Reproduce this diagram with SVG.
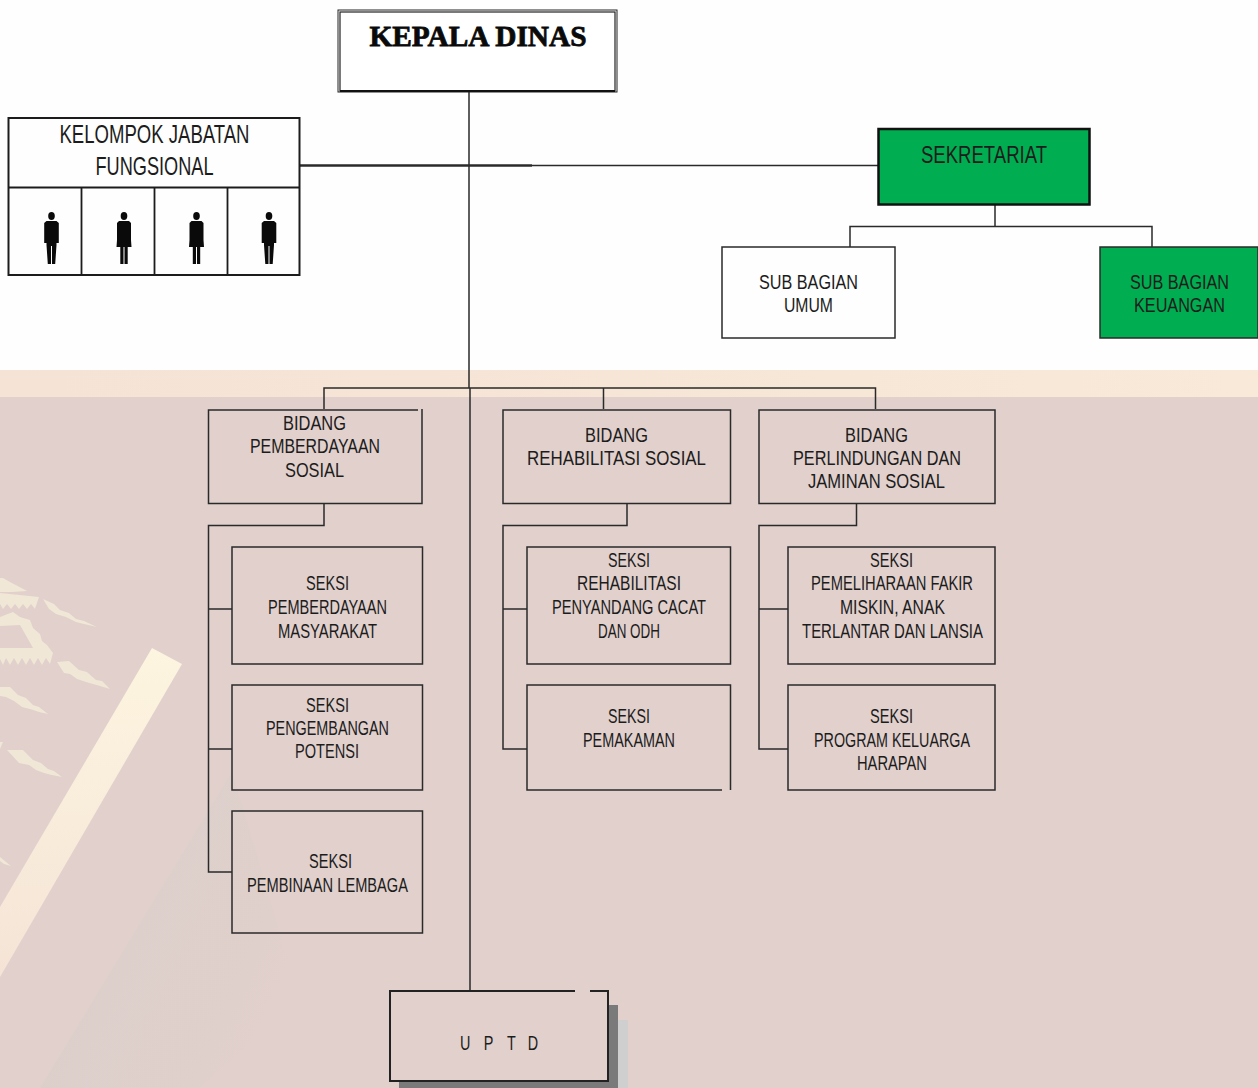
<svg xmlns="http://www.w3.org/2000/svg" width="1258" height="1088" viewBox="0 0 1258 1088">
<style>
.t{font-family:"Liberation Sans",Arial,sans-serif;font-size:20px;fill:#1c1c1c;text-anchor:middle}
.b{fill:none;stroke:#2a2a2a;stroke-width:1.5}
.c{fill:none;stroke:#2a2a2a;stroke-width:1.5}
.m{fill:#f0e7d6}
</style>
<defs>
<linearGradient id="bar" x1="0" y1="0" x2="0" y2="1"><stop offset="0" stop-color="#fdf5e0"/><stop offset="1" stop-color="#f5e4d6"/></linearGradient>
<linearGradient id="band" x1="0" y1="0" x2="1" y2="0"><stop offset="0" stop-color="#f5e3d5"/><stop offset="1" stop-color="#f8e9d8"/></linearGradient>
<linearGradient id="shade" x1="0" y1="0" x2="1" y2="0.550"><stop offset="0" stop-color="#d9cfca"/><stop offset="1" stop-color="#e1d0cc"/></linearGradient>
<g id="male"><ellipse cx="0" cy="4" rx="3.300" ry="4"/><path d="M-5 9H5L7.300 11V31H5V33L3.700 52H.5V34H-.5V52H-3.700L-5 33V31H-7.300V11Z"/></g>
<g id="female"><ellipse cx="0" cy="4" rx="3.300" ry="4"/><path d="M-5 9H5L7 11V28L7.500 35H3.700V52H.5V35H-.5V52H-3.700V35H-7.500L-7 28V11Z"/></g>
</defs>

<g id="background">
<rect width="1258" height="370" fill="#fefefe"/>
<rect y="370" width="1258" height="27" fill="url(#band)"/>
<rect y="397" width="1258" height="691" fill="#e1d0cc"/>
<polygon points="40,1088 232,772 300,1000 200,1088" fill="url(#shade)"/>
<polygon points="152,648 182,664 0,977 0,907" fill="url(#bar)"/>
<polygon class="m" points="0,578 3,578 10,582 27,591 12,592 0,592"/>
<polygon class="m" points="0,593 39,597 35,609 31,604 27,609 23,604 19,609 15,604 11,609 7,604 3,609 0,604"/>
<polygon class="m" points="43,599 54,604 60,610 69,613 76,619 84,621 97,627 84,624 76,622 66,617 56,614 49,609"/>
<path class="m" fill-rule="evenodd" d="M0 617L13 612 20 617 30 620 33 628 40 634 42 641 47 645 53 653 50 664 46 658 42 665 38 658 34 665 30 658 26 665 22 658 18 665 14 658 10 665 6 658 3 665 0 659ZM0 626V648H33L20 625Z"/>
<polygon class="m" points="57,662 69,661 79,670 87,672 96,680 102,681 110,689 100,686 93,684 86,682 77,679 70,674 64,673"/>
<polygon class="m" points="0,687 10,687 18,695 26,698 33,705 39,707 48,714 39,712 30,709 22,707 14,701 6,697 0,696"/>
<polygon class="m" points="7,750 23,750 33,760 41,763 48,769 54,771 62,777 52,775 44,773 36,770 29,765 19,763"/>
<polygon class="m" points="0,742 3,742 0,749"/>
<polygon class="m" points="0,857 11,866 4,864 0,861"/>
</g>

<g id="connectors">
<path class="c" d="M469 92V388M470 388V991"/>
<path class="c" style="stroke-width:2.5" d="M300 165.500H532"/>
<path class="c" d="M532 165.500H879"/>
<path class="c" d="M324 409V388H875.500V409M603.500 388V409"/>
<path class="c" d="M995 205V226M850 247V226.500H1152V247"/>
<path class="c" d="M324 504V525.500H208.500V872H232M208.500 609H232M208.500 749H232"/>
<path class="c" d="M627 504V525.500H503V749H527M503 609H527"/>
<path class="c" d="M856.500 504V525.500H759V749H788M759 609H788"/>
</g>

<g id="kepala-dinas">
<rect x="338" y="10" width="279" height="82" fill="none" stroke="#222" stroke-width="1"/>
<rect x="340" y="12" width="275" height="79" fill="#fff" stroke="#222" stroke-width="1.200"/>
<path d="M340 91H615" stroke="#111" stroke-width="2"/>
<text x="478" y="46" font-family="'Liberation Serif','Times New Roman',serif" font-weight="700" font-size="30" fill="#0a0a0a" stroke="#0a0a0a" stroke-width="0.800" text-anchor="middle" textLength="217" lengthAdjust="spacingAndGlyphs">KEPALA DINAS</text>
</g>

<g id="kelompok-jabatan-fungsional">
<rect x="8.500" y="118" width="291" height="157" fill="#fefefe" stroke="#1c1c1c" stroke-width="2"/>
<path d="M9 187.500H300M81.500 187V275M154.500 187V275M227.500 187V275" stroke="#1c1c1c" stroke-width="1.800" fill="none"/>
<text class="t" x="154.500" y="143" style="font-size:26px" textLength="190" lengthAdjust="spacingAndGlyphs">KELOMPOK JABATAN</text>
<text class="t" x="154.500" y="175" style="font-size:26px" textLength="118" lengthAdjust="spacingAndGlyphs">FUNGSIONAL</text>
<use href="#male" x="51.500" y="212" fill="#0a0a0a"/>
<use href="#female" x="124" y="212" fill="#0a0a0a"/>
<use href="#female" x="196.500" y="212" fill="#0a0a0a"/>
<use href="#male" x="269" y="212" fill="#0a0a0a"/>
</g>

<g id="sekretariat">
<rect x="878.500" y="129" width="211" height="75.500" fill="#00ad50" stroke="#111" stroke-width="2.500"/>
<text class="t" x="984" y="163" style="font-size:23px" textLength="126" lengthAdjust="spacingAndGlyphs">SEKRETARIAT</text>
</g>
<g id="sub-bagian-umum">
<rect x="722" y="247" width="173" height="91" class="b" style="fill:#fefefe"/>
<text class="t" x="808.500" y="289" textLength="99" lengthAdjust="spacingAndGlyphs">SUB BAGIAN</text>
<text class="t" x="808.500" y="312" textLength="49" lengthAdjust="spacingAndGlyphs">UMUM</text>
</g>
<g id="sub-bagian-keuangan">
<rect x="1100" y="247" width="158" height="91" class="b" style="fill:#00ad50"/>
<text class="t" x="1179.500" y="289" textLength="99" lengthAdjust="spacingAndGlyphs">SUB BAGIAN</text>
<text class="t" x="1179.500" y="312" textLength="91" lengthAdjust="spacingAndGlyphs">KEUANGAN</text>
</g>

<g id="bidang-pemberdayaan-sosial">
<path class="b" d="M418 410H208.500V503.500H422V409"/>
<text class="t" x="314.500" y="430" textLength="63" lengthAdjust="spacingAndGlyphs">BIDANG</text>
<text class="t" x="315" y="453" textLength="130" lengthAdjust="spacingAndGlyphs">PEMBERDAYAAN</text>
<text class="t" x="314.500" y="477" textLength="59" lengthAdjust="spacingAndGlyphs">SOSIAL</text>
</g>
<g id="bidang-rehabilitasi-sosial">
<rect class="b" x="503" y="410" width="227.500" height="93.500"/>
<text class="t" x="616.500" y="442" textLength="63" lengthAdjust="spacingAndGlyphs">BIDANG</text>
<text class="t" x="616.500" y="465" textLength="179" lengthAdjust="spacingAndGlyphs">REHABILITASI SOSIAL</text>
</g>
<g id="bidang-perlindungan">
<rect class="b" x="759" y="410" width="236" height="93.500"/>
<text class="t" x="876.500" y="442" textLength="63" lengthAdjust="spacingAndGlyphs">BIDANG</text>
<text class="t" x="877" y="465" textLength="168" lengthAdjust="spacingAndGlyphs">PERLINDUNGAN DAN</text>
<text class="t" x="876.500" y="488" textLength="137" lengthAdjust="spacingAndGlyphs">JAMINAN SOSIAL</text>
</g>

<g id="seksi-pemberdayaan-masyarakat">
<rect class="b" x="232" y="547" width="190.500" height="117"/>
<text class="t" x="327.500" y="590" textLength="43" lengthAdjust="spacingAndGlyphs">SEKSI</text>
<text class="t" x="327.500" y="614" textLength="119" lengthAdjust="spacingAndGlyphs">PEMBERDAYAAN</text>
<text class="t" x="327.500" y="638" textLength="99" lengthAdjust="spacingAndGlyphs">MASYARAKAT</text>
</g>
<g id="seksi-pengembangan-potensi">
<rect class="b" x="232" y="685" width="190.500" height="105"/>
<text class="t" x="327.500" y="712" textLength="43" lengthAdjust="spacingAndGlyphs">SEKSI</text>
<text class="t" x="327.500" y="735" textLength="123" lengthAdjust="spacingAndGlyphs">PENGEMBANGAN</text>
<text class="t" x="327" y="758" textLength="64" lengthAdjust="spacingAndGlyphs">POTENSI</text>
</g>
<g id="seksi-pembinaan-lembaga">
<rect class="b" x="232" y="811" width="190.500" height="122"/>
<text class="t" x="330.500" y="868" textLength="43" lengthAdjust="spacingAndGlyphs">SEKSI</text>
<text class="t" x="327.500" y="892" textLength="161" lengthAdjust="spacingAndGlyphs">PEMBINAAN LEMBAGA</text>
</g>

<g id="seksi-rehabilitasi-penyandang-cacat">
<rect class="b" x="527" y="547" width="203.500" height="117"/>
<text class="t" x="629" y="567" textLength="42" lengthAdjust="spacingAndGlyphs">SEKSI</text>
<text class="t" x="629" y="590" textLength="104" lengthAdjust="spacingAndGlyphs">REHABILITASI</text>
<text class="t" x="629" y="614" textLength="154" lengthAdjust="spacingAndGlyphs">PENYANDANG CACAT</text>
<text class="t" x="629" y="638" textLength="62" lengthAdjust="spacingAndGlyphs">DAN ODH</text>
</g>
<g id="seksi-pemakaman">
<path class="b" d="M722 790H527V685H730.500V790"/>
<text class="t" x="629" y="723" textLength="42" lengthAdjust="spacingAndGlyphs">SEKSI</text>
<text class="t" x="629" y="747" textLength="92" lengthAdjust="spacingAndGlyphs">PEMAKAMAN</text>
</g>

<g id="seksi-pemeliharaan">
<rect class="b" x="788" y="547" width="207" height="117"/>
<text class="t" x="891.500" y="567" textLength="43" lengthAdjust="spacingAndGlyphs">SEKSI</text>
<text class="t" x="892" y="590" textLength="162" lengthAdjust="spacingAndGlyphs">PEMELIHARAAN FAKIR</text>
<text class="t" x="892.500" y="614" textLength="105" lengthAdjust="spacingAndGlyphs">MISKIN, ANAK</text>
<text class="t" x="892.500" y="638" textLength="181" lengthAdjust="spacingAndGlyphs">TERLANTAR DAN LANSIA</text>
</g>
<g id="seksi-program-keluarga-harapan">
<rect class="b" x="788" y="685" width="207" height="105"/>
<text class="t" x="891.500" y="723" textLength="43" lengthAdjust="spacingAndGlyphs">SEKSI</text>
<text class="t" x="892" y="747" textLength="156" lengthAdjust="spacingAndGlyphs">PROGRAM KELUARGA</text>
<text class="t" x="892" y="770" textLength="70" lengthAdjust="spacingAndGlyphs">HARAPAN</text>
</g>

<g id="uptd">
<rect x="618" y="1020" width="10" height="68" fill="#cfcfcf"/>
<path d="M608 1005H618V1088H399V1081H608Z" fill="#7a7a7a"/>
<path d="M575 991H390V1081H608V991H590" fill="none" stroke="#222" stroke-width="2"/>
<text class="t" transform="translate(0 1050) scale(.72 1)" style="text-anchor:start"><tspan x="639" y="0">U </tspan><tspan x="672" y="0">P </tspan><tspan x="704" y="0">T </tspan><tspan x="733" y="0">D</tspan></text>
</g>
</svg>
